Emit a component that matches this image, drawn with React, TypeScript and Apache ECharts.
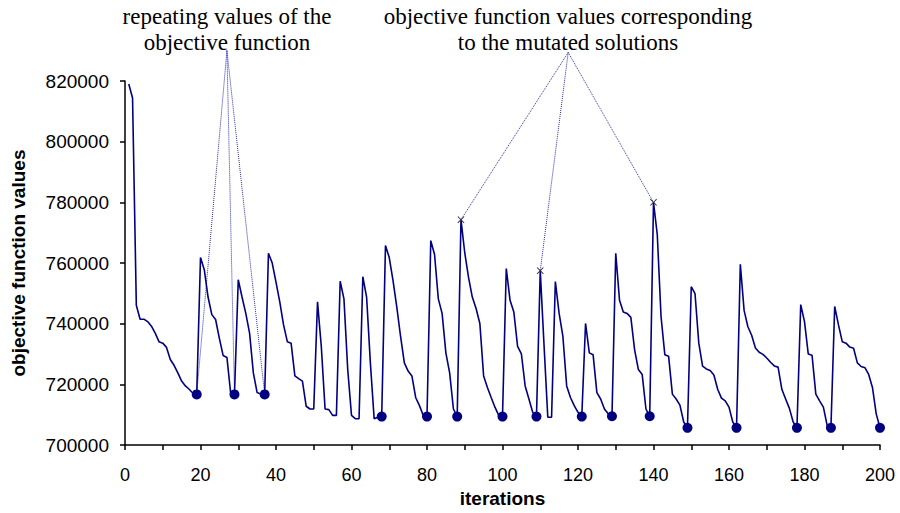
import React, { useEffect, useRef } from "react";
import * as echarts from "echarts";

// iterations 1..200
const startIteration = 1;
const objectiveValues: number[] = [
  819000, 814400, 746100, 741500, 741500, 740700, 739200, 736900, 734100, 733600,
  732200, 728200, 726300, 723800, 721100, 719500, 718400, 717100, 716700, 761800,
  757800, 748800, 743000, 741400, 735200, 729500, 728900, 717000, 716700, 754500,
  748800, 743400, 736900, 723800, 717300, 716800, 716700, 763200, 760000, 753700,
  747200, 739600, 734100, 733600, 722800, 721900, 721100, 712800, 711900, 711900,
  747200, 732500, 711900, 711700, 709800, 709800, 754000, 748200, 724900, 709800,
  708700, 708700, 755500, 748800, 727100, 708700, 709200, 709400, 765800, 761800,
  754200, 745500, 735800, 727100, 724400, 722800, 715700, 713000, 709800, 709400,
  767400, 762800, 748200, 743400, 730400, 723800, 711900, 709400, 774300, 763400,
  755300, 748800, 745000, 740100, 722800, 719000, 715700, 712500, 709800, 709400,
  758200, 747700, 743900, 732500, 730100, 719500, 715200, 710800, 709400, 757500,
  733000, 709200, 709200, 753900, 743400, 735800, 719500, 715700, 713000, 710800,
  709400, 740100, 730400, 729800, 717300, 715200, 711900, 710300, 709500, 763200,
  747700, 743900, 743400, 742100, 731400, 724900, 723300, 711900, 709500, 780000,
  769400, 742300, 729800, 729300, 716800, 715200, 713200, 707600, 705700, 752200,
  749900, 733600, 726000, 725100, 724600, 723100, 718400, 715500, 714600, 712500,
  707600, 705700, 759600, 744400, 739000, 736200, 732000, 730600, 729900, 728700,
  727300, 726100, 725700, 718400, 715200, 712100, 707600, 705700, 746300, 740700,
  730000, 729600, 716800, 714600, 712500, 706500, 705700, 745700, 739600, 734100,
  733600, 732300, 731900, 727100, 725900, 725500, 723300, 719000, 710300, 705700,
];

// iterations marked with a dot (repeating values)
const repeatingIterations = [19, 29, 37, 68, 80, 88, 100, 109, 121, 129, 139, 149, 162, 178, 187, 200];
// iterations marked with a cross (mutated solutions)
const mutatedIterations = [89, 110, 140];
// the first three repeating values are the ones pointed at by the left note
const pointedRepeating = [19, 29, 37];

// note anchors [iteration, value]
const repeatingNoteAnchor: [number, number] = [27, 830000];
const mutatedNoteAnchor: [number, number] = [117.4, 829400];

const repeatingNoteText = "repeating values of the\nobjective function";
const mutatedNoteText = "objective function values corresponding\nto the mutated solutions";

const xTicks = { min: 0, max: 200, interval: 10, labelStep: 20 };
const yTicks = { min: 700000, max: 820000, interval: 20000 };

const valueAt = (it: number) => objectiveValues[it - startIteration];

export default function App() {
  const ref = useRef<HTMLDivElement>(null);

  useEffect(() => {
    if (!ref.current) return;
    const chart = echarts.init(ref.current, null, { renderer: "svg" });

    const lineData = objectiveValues.map((v, i) => [i + startIteration, v]);
    const dotData = repeatingIterations.map((it) => [it, valueAt(it)]);
    const crossData = mutatedIterations.map((it) => [it, valueAt(it)]);
    const pointerData = [
      ...pointedRepeating.map((it) => ({ coords: [repeatingNoteAnchor, [it, valueAt(it)]] })),
      ...mutatedIterations.map((it) => ({ coords: [mutatedNoteAnchor, [it, valueAt(it)]] })),
    ];

    const font = "'Liberation Sans', Arial, sans-serif";

    chart.setOption({
      animation: false,
      backgroundColor: "#ffffff",
      grid: { left: 125, right: 20, top: 81, bottom: 63, containLabel: false },
      xAxis: {
        type: "value",
        min: xTicks.min,
        max: xTicks.max,
        interval: xTicks.interval,
        name: "iterations",
        nameLocation: "middle",
        nameGap: 35,
        nameTextStyle: { fontFamily: font, fontWeight: "bold", fontSize: 19, color: "#000" },
        axisLine: { lineStyle: { color: "#000", width: 1.5 } },
        axisTick: { show: true, length: 5, lineStyle: { color: "#000", width: 1.5 } },
        axisLabel: {
          fontFamily: font,
          fontSize: 18,
          color: "#000",
          margin: 21,
          formatter: (v: number) => (v % xTicks.labelStep === 0 ? String(v) : ""),
        },
        splitLine: { show: false },
      },
      yAxis: {
        type: "value",
        min: yTicks.min,
        max: yTicks.max,
        interval: yTicks.interval,
        name: "objective function values",
        nameLocation: "middle",
        nameRotate: 90,
        nameGap: 97,
        nameTextStyle: { fontFamily: font, fontWeight: "bold", fontSize: 19, color: "#000" },
        axisLine: { show: true, lineStyle: { color: "#000", width: 1.5 } },
        axisTick: { show: true, length: 5, lineStyle: { color: "#000", width: 1.5 } },
        axisLabel: {
          fontFamily: font,
          fontSize: 19,
          color: "#000",
          margin: 16,
          formatter: (v: number) => String(v),
        },
        splitLine: { show: false },
      },
      series: [
        {
          type: "lines",
          coordinateSystem: "cartesian2d",
          clip: false,
          silent: true,
          z: 1,
          lineStyle: { color: "#2a2ab0", width: 1, type: "dotted", opacity: 1 },
          data: pointerData,
        },
        {
          type: "line",
          data: lineData,
          showSymbol: false,
          symbol: "none",
          z: 2,
          lineStyle: { color: "#000080", width: 1.6 },
        },
        {
          type: "scatter",
          data: dotData,
          symbol: "circle",
          symbolSize: 10,
          z: 3,
          itemStyle: { color: "#000080", opacity: 1 },
        },
        {
          type: "scatter",
          data: crossData,
          symbol: "path://M1,0L5,4L9,0L10,1L6,5L10,9L9,10L5,6L1,10L0,9L4,5L0,1Z",
          symbolSize: 7,
          z: 4,
          itemStyle: { color: "#333333", opacity: 1 },
        },
      ],
      graphic: [
        {
          type: "text",
          x: 227,
          y: 3,
          style: {
            text: repeatingNoteText,
            font: "23px 'Liberation Serif', 'Times New Roman', serif",
            fill: "#000",
            align: "center",
            verticalAlign: "top",
            lineHeight: 26,
          },
        },
        {
          type: "text",
          x: 568,
          y: 3,
          style: {
            text: mutatedNoteText,
            font: "23px 'Liberation Serif', 'Times New Roman', serif",
            fill: "#000",
            align: "center",
            verticalAlign: "top",
            lineHeight: 26,
          },
        },
      ],
    });

    return () => chart.dispose();
  }, []);

  return (
    <div
      ref={ref}
      style={{ position: "fixed", left: 0, top: 0, width: 900, height: 513, background: "#fff" }}
    />
  );
}
